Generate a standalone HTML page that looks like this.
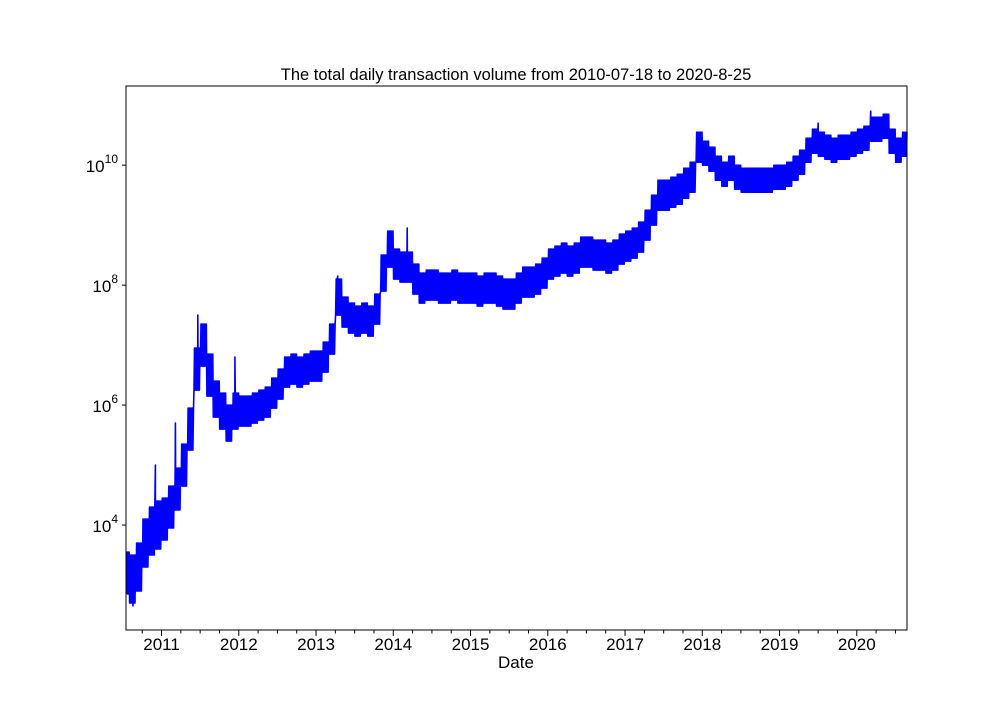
<!DOCTYPE html>
<html><head><meta charset="utf-8"><style>
body{margin:0;background:#fff}
svg text{font-family:"Liberation Sans","DejaVu Sans",sans-serif;fill:#000}
</style></head><body>
<svg id="chart" width="1008" height="720" xmlns="http://www.w3.org/2000/svg">
<rect width="1008" height="720" fill="#fff"/>
<text x="516" y="80" font-size="16.5" text-anchor="middle">The total daily transaction volume from 2010-07-18 to 2020-8-25</text>
<g id="plot"></g>
<text x="516" y="668" font-size="17" text-anchor="middle">Date</text>
</svg>
<script>
// monthly mid log10(volume), starting 2010-07
const monthlyMid=[3.2,3.1,3.3,3.7,3.9,4.0,
4.1,4.3,4.6,5.0,5.6,6.6,7.0,6.5,6.1,5.9,5.7,5.9,
5.9,5.9,5.95,6.0,6.05,6.2,6.35,6.55,6.6,6.55,6.6,6.65,
6.65,6.8,7.1,7.8,7.55,7.45,7.4,7.45,7.4,7.6,8.2,8.6,
8.35,8.3,8.3,8.1,7.95,8.0,8.0,7.95,7.95,8.0,7.95,7.95,
7.95,7.9,7.95,7.95,7.9,7.85,7.85,7.95,8.05,8.05,8.1,8.2,
8.35,8.4,8.45,8.4,8.45,8.55,8.55,8.5,8.5,8.45,8.5,8.6,
8.65,8.7,8.8,9.0,9.25,9.5,9.5,9.55,9.6,9.7,9.8,10.3,
10.2,10.1,9.95,9.85,9.95,9.8,9.75,9.75,9.75,9.75,9.75,9.8,
9.8,9.85,9.95,10.05,10.25,10.4,10.35,10.3,10.25,10.3,10.3,10.35,
10.4,10.45,10.6,10.6,10.65,10.4,10.25,10.35];
// monthly half-range of daily fluctuation (decades)
const monthlySpread=[0.35,0.4,0.4,0.4,0.4,0.4,
0.35,0.35,0.35,0.35,0.35,0.35,0.35,0.35,0.3,0.3,0.3,0.3,
0.25,0.25,0.25,0.25,0.25,0.25,0.25,0.25,0.25,0.25,0.25,0.25,
0.25,0.25,0.25,0.3,0.25,0.25,0.25,0.25,0.25,0.25,0.3,0.3,
0.25,0.25,0.25,0.25,0.25,0.25,0.25,0.25,0.25,0.25,0.25,0.25,
0.25,0.25,0.25,0.25,0.25,0.25,0.25,0.25,0.25,0.25,0.25,0.25,
0.25,0.25,0.25,0.25,0.25,0.25,0.25,0.25,0.25,0.25,0.25,0.25,
0.25,0.25,0.25,0.25,0.25,0.25,0.25,0.25,0.25,0.25,0.25,0.25,
0.2,0.2,0.2,0.2,0.2,0.2,0.2,0.2,0.2,0.2,0.2,0.2,
0.2,0.2,0.2,0.2,0.2,0.2,0.2,0.2,0.2,0.2,0.2,0.2,
0.2,0.2,0.2,0.2,0.2,0.2,0.2,0.2];
const spikeDates=[2010.63,2010.92,2011.18,2011.47,2011.95,2013.28,2013.93,2014.18,2017.97,2019.5,2020.18];
const spikeValues=[2.65,5.0,5.7,7.5,6.8,8.15,8.75,8.95,10.5,10.7,10.9];
const yearTicks=[2011,2012,2013,2014,2015,2016,2017,2018,2019,2020];
const yTicks=[4,6,8,10];

const X0=126,X1=907,Y0=86,Y1=630,T0=2010.54,T1=2020.65,L0=2.25,L1=11.32;
const sx=t=>X0+(t-T0)/(T1-T0)*(X1-X0);
const sy=v=>Y1-(v-L0)/(L1-L0)*(Y1-Y0);
const NS="http://www.w3.org/2000/svg";
const g=document.getElementById('plot');
function mk(tag,at){const e=document.createElementNS(NS,tag);for(const k in at)e.setAttribute(k,at[k]);g.appendChild(e);return e;}

// build points: several low/high swings within each month
const SW=6;
let pts=[];
monthlyMid.forEach((m,i)=>{
  const t=2010.5+i/12;
  for(let k=0;k<SW;k++){
    pts.push([t+(k+0.25)/(12*SW),m-monthlySpread[i]]);
    pts.push([t+(k+0.75)/(12*SW),m+monthlySpread[i]]);
  }
});
spikeDates.forEach((d,i)=>pts.push([d,spikeValues[i]]));
pts.sort((a,b)=>a[0]-b[0]);
pts=pts.filter(p=>p[0]>=T0&&p[0]<=T1);
const line=mk('polyline',{points:pts.map(p=>sx(p[0]).toFixed(1)+','+sy(p[1]).toFixed(1)).join(' '),fill:'none',stroke:'#0000ff','stroke-width':1.6,'stroke-linejoin':'round'});



// frame
const fr=mk('rect',{x:X0,y:Y0,width:X1-X0,height:Y1-Y0,fill:'none',stroke:'#000','stroke-width':1});



// x ticks
for(let q=Math.ceil(T0*4);q<=T1*4;q++){
  const t=q/4,x=sx(t),maj=q%4===0;
  const tk=mk('line',{x1:x,x2:x,y1:Y1,y2:Y1+(maj?6:3.5),stroke:'#000','stroke-width':1});
  
  
}
yearTicks.forEach(yr=>{
  const t=mk('text',{x:sx(yr),y:Y1+20,'font-size':17,'text-anchor':'middle'});
  t.textContent=yr;
  
  
});
// y ticks
yTicks.forEach(v=>{
  const y=sy(v);
  const tk=mk('line',{x1:X0-4,x2:X0,y1:y,y2:y,stroke:'#000','stroke-width':1});
  
  
  const t=mk('text',{x:X0-8,y:y+7,'font-size':17,'text-anchor':'end'});
  t.innerHTML='10<tspan dy="-9" font-size="12">'+v+'</tspan>';
  
  
});
</script>
</body></html>
